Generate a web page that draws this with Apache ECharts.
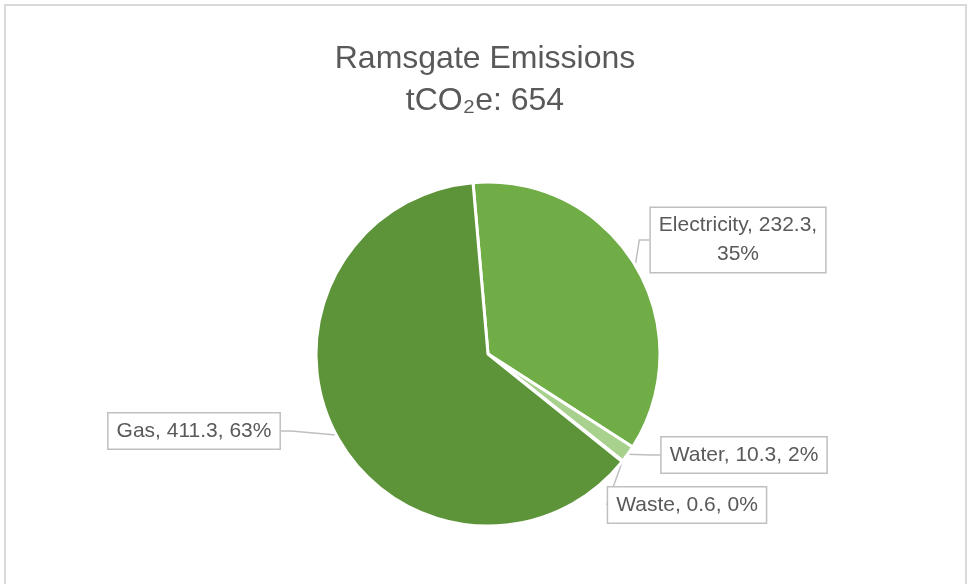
<!DOCTYPE html>
<html>
<head>
<meta charset="utf-8">
<script src="https://cdn.jsdelivr.net/npm/echarts@6/dist/echarts.min.js"></script>
<style>html,body{margin:0;padding:0;background:#fff}#c{width:970px;height:584px}</style>
</head>
<body>
<div id="c"></div>
<script>
const categories = ['Electricity', 'Water', 'Waste', 'Gas'];
const values = [232.3, 10.3, 0.6, 411.3];
const colors = ['#70AD47', '#A9D18E', '#C5E0B4', '#5E9439'];
const titleLines = ['Ramsgate Emissions', 'tCO₂e: 654'];

// label box centres (layout only)
const labelPos = [[738, 240], [744, 455], [687, 505], [194, 431]];

const chart = echarts.init(document.getElementById('c'));
const FONT = '"Liberation Sans", Arial, sans-serif';
chart.setOption({
  animation: false,
  backgroundColor: '#fff',
  title: {
    text: titleLines.join('\n'),
    left: 'center',
    top: 33,
    textStyle: { fontFamily: FONT, fontSize: 32, fontWeight: 'normal', color: '#595959', lineHeight: 42 }
  },
  graphic: [{
    type: 'rect',
    shape: { x: 5, y: 5, width: 961, height: 580 },
    style: { fill: 'none', stroke: '#D9D9D9', lineWidth: 2 },
    silent: true
  }],
  series: [{
    type: 'pie',
    center: [488, 354],
    radius: 172,
    startAngle: 95,
    clockwise: true,
    percentPrecision: 0,
    data: categories.map((n, i) => ({ name: n, value: values[i], itemStyle: { color: colors[i] } })),
    itemStyle: { borderColor: '#fff', borderWidth: 3 },
    label: {
      show: true,
      position: 'outside',
      fontFamily: FONT,
      fontSize: 21,
      color: '#595959',
      lineHeight: 29,
      align: 'center',
      backgroundColor: '#fff',
      borderColor: '#BFBFBF',
      borderWidth: 1.5,
      padding: [3, 8],
      formatter: p => {
        const v = p.value.toFixed(1);
        if (p.name === 'Electricity') return p.name + ', ' + v + ',\n' + p.percent + '%';
        return p.name + ', ' + v + ', ' + p.percent + '%';
      }
    },
    labelLine: { show: true, length: 10, length2: 10, lineStyle: { color: '#BFBFBF', width: 1.5 } },
    labelLayout: p => ({
      x: labelPos[p.dataIndex][0],
      y: labelPos[p.dataIndex][1],
      align: 'center',
      verticalAlign: 'middle'
    })
  }]
});
</script>
</body>
</html>
